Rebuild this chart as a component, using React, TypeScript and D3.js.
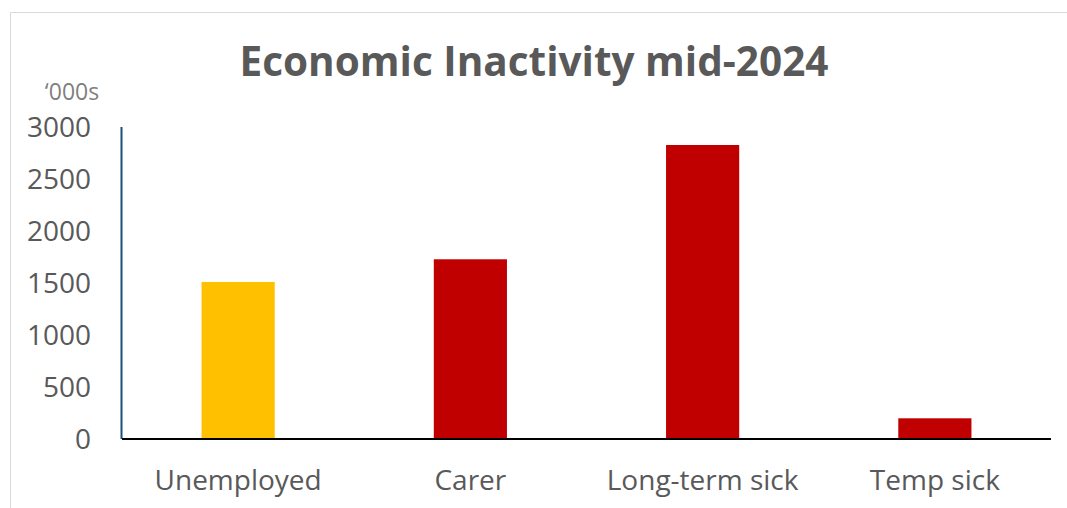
import React from "react";
import * as d3 from "d3";

const categories = ["Unemployed", "Carer", "Long-term sick", "Temp sick"];
const values = [1510, 1728, 2827, 199];
const barColors = ["#FFC000", "#C00000", "#C00000", "#C00000"];
const yTicks = [0, 500, 1000, 1500, 2000, 2500, 3000];
const title = "Economic Inactivity mid-2024";
const unitLabel = "\u2018000s";

const W = 1067;
const H = 508;
const plot = { left: 122, right: 1051, top: 127, bottom: 439 };
const FONT = "'Open Sans', 'DejaVu Sans', sans-serif";

export default function App() {
  const x = d3.scaleBand<string>().domain(categories).range([plot.left, plot.right]).padding(0);
  const y = d3.scaleLinear().domain([0, 3000]).range([plot.bottom, plot.top]);
  const barW = x.bandwidth() * 0.315;

  return (
    <svg
      width={W}
      height={H}
      style={{ position: "absolute", left: 0, top: 0, background: "#fff" }}
      fontFamily={FONT}
    >
      <rect x={0} y={0} width={W} height={H} fill="#fff" />
      {/* outer border (top/left) */}
      <line x1={10.5} y1={12.5} x2={W} y2={12.5} stroke="#d9d9d9" strokeWidth={1} />
      <line x1={10.5} y1={12.5} x2={10.5} y2={H} stroke="#d9d9d9" strokeWidth={1} />

      <text x={534} y={76} textAnchor="middle" fontSize={40.5} fontWeight={700} fill="#595959">
        {title}
      </text>
      <text x={72} y={100} textAnchor="middle" fontSize={23} fill="#7f7f7f">
        {unitLabel}
      </text>

      {yTicks.map((t) => (
        <text key={t} x={91} y={y(t)} dy="0.36em" textAnchor="end" fontSize={28} fill="#595959">
          {t}
        </text>
      ))}

      {categories.map((c, i) => (
        <rect
          key={c}
          x={(x(c) as number) + x.bandwidth() / 2 - barW / 2}
          y={y(values[i])}
          width={barW}
          height={y(0) - y(values[i])}
          fill={barColors[i]}
        />
      ))}

      <line x1={121.5} y1={plot.top} x2={121.5} y2={plot.bottom} stroke="#1F4E79" strokeWidth={2} />
      <line x1={plot.left} y1={plot.bottom} x2={plot.right} y2={plot.bottom} stroke="#000" strokeWidth={2} />

      {categories.map((c) => (
        <text
          key={c}
          x={(x(c) as number) + x.bandwidth() / 2}
          y={490}
          textAnchor="middle"
          fontSize={28}
          fill="#595959"
        >
          {c}
        </text>
      ))}
    </svg>
  );
}
